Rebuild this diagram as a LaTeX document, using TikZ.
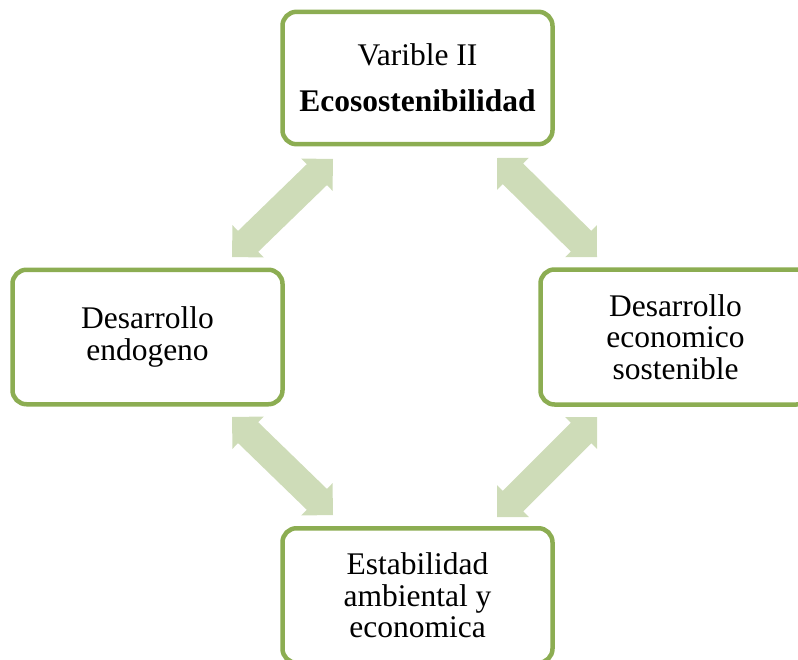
\documentclass[tikz,border=0pt]{standalone}
\usepackage{fontspec}
\setmainfont{Liberation Serif}
\usetikzlibrary{calc}
\definecolor{boxgreen}{RGB}{140,173,82}
\definecolor{arrowfill}{RGB}{206,220,184}
\newcommand\dblarrow[2]{%
  \coordinate (#1-#2-a) at ($(#1)!22.5pt!(#2)$);
  \coordinate (#1-#2-b) at ($(#2)!22.5pt!(#1)$);
  \fill[arrowfill] (#1)
    -- ($(#1-#2-a)!22.5pt!90:(#2)$)
    -- ($(#1-#2-a)!14.5pt!90:(#2)$)
    -- ($(#1-#2-b)!14.5pt!-90:(#1)$)
    -- ($(#1-#2-b)!22.5pt!-90:(#1)$)
    -- (#2)
    -- ($(#1-#2-b)!22.5pt!90:(#1)$)
    -- ($(#1-#2-b)!14.5pt!90:(#1)$)
    -- ($(#1-#2-a)!14.5pt!-90:(#2)$)
    -- ($(#1-#2-a)!22.5pt!-90:(#2)$)
    -- cycle;}
\begin{document}
\begin{tikzpicture}[x=1pt,y=-1pt,
  box/.style={draw=boxgreen, line width=4.5pt, rounded corners=14pt, fill=white,
    inner sep=0pt, minimum width=270pt, align=center,
    font=\fontsize{31.5}{31.5}\selectfont}]
\useasboundingbox (0,0) rectangle (798,659);
\clip (0,0) rectangle (798,659);
\node[box, minimum height=132.4pt] (top) at (417.5,78)
  {Varible II\\[14.2pt]\textbf{Ecosostenibilidad}};
\node[box, minimum height=134.5pt] (left) at (147.5,337)
  {Desarrollo\\endogeno};
\node[box, minimum height=135pt] (right) at (675.5,337)
  {Desarrollo\\economico\\sostenible};
\node[box, minimum height=134.5pt] (bottom) at (417.5,595.5)
  {Estabilidad\\ambiental y\\economica};
\coordinate (tlA) at (232,257); \coordinate (tlB) at (333,159);
\coordinate (trA) at (497,158); \coordinate (trB) at (597,257);
\coordinate (blA) at (232,417); \coordinate (blB) at (333,515);
\coordinate (brA) at (497,517); \coordinate (brB) at (597,417);
\dblarrow{tlA}{tlB}
\dblarrow{trA}{trB}
\dblarrow{blA}{blB}
\dblarrow{brA}{brB}
\end{tikzpicture}
\end{document}
